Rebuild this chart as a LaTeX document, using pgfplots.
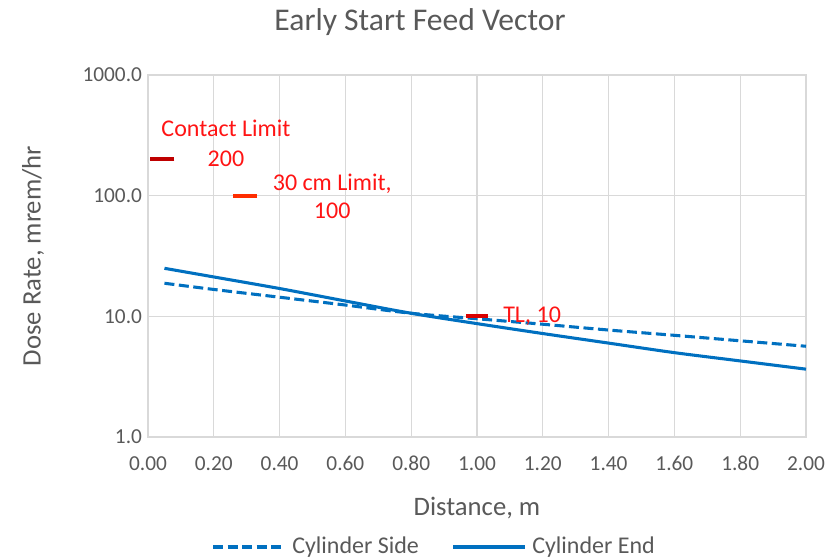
\documentclass[border=0pt]{standalone}
\usepackage{pgfplots}
\pgfplotsset{compat=1.18}
\usepackage{fontspec}
\setmainfont{Carlito}
\definecolor{txt}{RGB}{89,89,89}
\definecolor{gridc}{RGB}{217,217,217}
\definecolor{lineblue}{RGB}{0,112,192}
\definecolor{lblred}{RGB}{255,20,20}
\begin{document}
\begin{tikzpicture}[font=\fontsize{16}{19}\selectfont\color{txt}]
\begin{axis}[
    name=ax,
    scale only axis,
    width=493.5pt, height=271.5pt,
    ymode=log,
    xmin=0, xmax=2, ymin=1, ymax=1000,
    xtick={0,0.2,0.4,0.6,0.8,1,1.2,1.4,1.6,1.8,2},
    ytick={1,10,100,1000},
    yticklabels={1.0,10.0,100.0,1000.0},
    minor ytick={},
    /pgf/number format/assume math mode=true,
    xticklabel style={yshift=-11pt, /pgf/number format/.cd, fixed, fixed zerofill, precision=2},
    yticklabel style={xshift=-1pt},
    tick style={draw=none},
    major grid style={gridc, line width=0.8pt},
    grid=major,
    axis line style={draw=gridc, line width=0.8pt},
    log basis y=10,
    clip=false,
]
% Cylinder Side
\addplot[lineblue, line width=2.3pt, dash pattern=on 7.5pt off 3.4pt, smooth] coordinates {
  (0.05,18.8) (0.2,16.7) (0.4,14.4) (0.6,12.4) (0.8,10.6) (1.0,9.55)
  (1.2,8.6) (1.4,7.7) (1.6,6.96) (1.8,6.27) (2.0,5.65)
};
% Cylinder End
\addplot[lineblue, line width=2.3pt, smooth] coordinates {
  (0.05,25.0) (0.2,21.2) (0.4,17.0) (0.6,13.4) (0.8,10.6) (1.0,8.7)
  (1.2,7.2) (1.4,6.0) (1.6,5.0) (1.8,4.27) (2.0,3.65)
};
% limit markers
\addplot[only marks, mark=-, mark size=9pt, mark options={line width=3pt, draw=red!75!black}] coordinates {(0.044,200)};
\addplot[only marks, mark=-, mark size=9pt, mark options={line width=3pt, draw=orange!35!red}] coordinates {(0.295,100)};
\addplot[only marks, mark=-, mark size=8pt, mark options={line width=3pt, draw=red!85!black}] coordinates {(1.0,10)};
\node[lblred, align=center, inner sep=0pt, font=\fontsize{18}{22.5}\selectfont] at (axis cs:0.237,273) {Contact Limit\\200};
\node[lblred, align=center, inner sep=0pt, font=\fontsize{18}{21}\selectfont] at (axis cs:0.56,99) {30 cm Limit,\\100};
\node[lblred, anchor=west, inner sep=0pt, font=\fontsize{18}{21}\selectfont] at (axis cs:1.079,10.1) {TL, 10};
\end{axis}
\node[font=\fontsize{23.7}{26}\selectfont\color{txt}] at ([shift={(204pt,311.25pt)}]ax.south west) {Early Start Feed Vector};
\node[rotate=90, font=\fontsize{20}{23}\selectfont\color{txt}] at ([shift={(-86.25pt,135.75pt)}]ax.south west) {Dose Rate, mrem/hr};
\node[font=\fontsize{20}{23}\selectfont\color{txt}] at ([shift={(246.75pt,-53.25pt)}]ax.south west) {Distance, m};
% legend
\draw[lineblue, line width=2.3pt, dash pattern=on 7.5pt off 3.4pt] ([shift={(48.75pt,-82.5pt)}]ax.south west) -- ++(54pt,0);
\node[anchor=west, inner sep=0pt, font=\fontsize{18}{21}\selectfont\color{txt}] at ([shift={(108pt,-82.5pt)}]ax.south west) {Cylinder Side};
\draw[lineblue, line width=2.3pt] ([shift={(228.75pt,-82.5pt)}]ax.south west) -- ++(54pt,0);
\node[anchor=west, inner sep=0pt, font=\fontsize{18}{21}\selectfont\color{txt}] at ([shift={(288pt,-82.5pt)}]ax.south west) {Cylinder End};
\pgfresetboundingbox
\path[use as bounding box] ([shift={(-111pt,-91.5pt)}]ax.south west) rectangle ([shift={(513pt,327.75pt)}]ax.south west);
\end{tikzpicture}
\end{document}
